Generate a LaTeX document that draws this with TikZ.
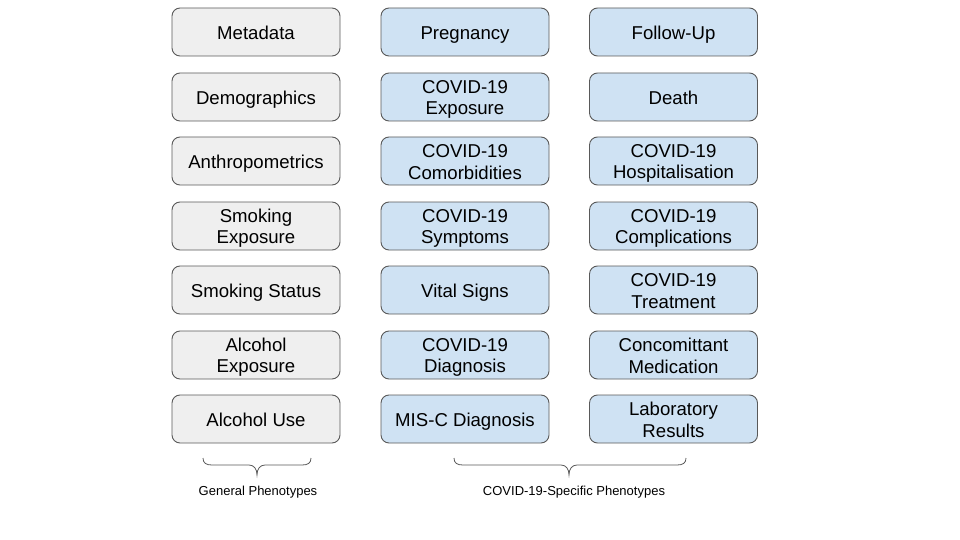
\documentclass[tikz,border=0pt]{standalone}
\usepackage{fontspec}
\setmainfont{Liberation Sans}
\definecolor{gfill}{HTML}{EFEFEF}
\definecolor{bfill}{HTML}{CFE2F3}
\definecolor{bord}{HTML}{595959}
\newcommand\topst{\rule{0pt}{18pt}}
\newcommand\botst{\rule[-3.6pt]{0pt}{3.6pt}}
\begin{document}
\begin{tikzpicture}[x=1pt,y=-1pt,
  box/.style={draw=bord,line width=0.9pt,rounded corners=8pt,minimum width=168pt,minimum height=48pt,inner sep=0pt,align=center,font=\fontsize{18.6}{21.7}\selectfont},
  gbox/.style={box,fill=gfill},
  bbox/.style={box,fill=bfill},
  lab/.style={font=\fontsize{13}{15}\selectfont},
  brc/.style={draw=bord,line width=0.8pt}]
\useasboundingbox (0,0) rectangle (960,540);
% column 1
\node[gbox] (m) at (256,32) {\topst Metadata\botst};
\node[gbox] (d) at (256,97) {\topst Demographics\botst};
\node[gbox] (a) at (256,161) {\topst Anthropometrics\botst};
\node[gbox] (se) at (256,226) {\topst Smoking\\Exposure\botst};
\node[gbox] (ss) at (256,290) {\topst Smoking Status\botst};
\node[gbox] (ae) at (256,355) {\topst Alcohol\\Exposure\botst};
\node[gbox] (au) at (256,419) {\topst Alcohol Use\botst};
% column 2
\node[bbox] (p) at (465,32) {\topst Pregnancy\botst};
\node[bbox] (ce) at (465,97) {\topst COVID-19\\Exposure\botst};
\node[bbox] (cc) at (465,161) {\topst COVID-19\\Comorbidities\botst};
\node[bbox] (cs) at (465,226) {\topst COVID-19\\Symptoms\botst};
\node[bbox] (vs) at (465,290) {\topst Vital Signs\botst};
\node[bbox] (cd) at (465,355) {\topst COVID-19\\Diagnosis\botst};
\node[bbox] (mis) at (465,419) {\topst MIS-C Diagnosis\botst};
% column 3
\node[bbox] (fu) at (673.5,32) {\topst Follow-Up\botst};
\node[bbox] (de) at (673.5,97) {\topst Death\botst};
\node[bbox] (ch) at (673.5,161) {\topst COVID-19\\Hospitalisation\botst};
\node[bbox] (cco) at (673.5,226) {\topst COVID-19\\Complications\botst};
\node[bbox] (ct) at (673.5,290) {\topst COVID-19\\Treatment\botst};
\node[bbox] (cm) at (673.5,355) {\topst Concomittant\\Medication\botst};
\node[bbox] (lr) at (673.5,419) {\topst Laboratory\\Results\botst};
% braces
\draw[brc] (203,458) .. controls (203,463) and (206,465) .. (212,465)
  -- (249,465) .. controls (254,465) and (257,469) .. (257,475)
  .. controls (257,469) and (260,465) .. (265,465)
  -- (302,465) .. controls (308,465) and (311,463) .. (311,458);
\draw[brc] (454,458) .. controls (454,463) and (457,465) .. (463,465)
  -- (561,465) .. controls (566,465) and (569,469) .. (569,475)
  .. controls (569,469) and (572,465) .. (577,465)
  -- (677,465) .. controls (683,465) and (686,463) .. (686,458);
\node[lab] (gl) at (258,492) {General Phenotypes};
\node[lab] (cl) at (574,492) {COVID-19-Specific Phenotypes};
\end{tikzpicture}
\end{document}
